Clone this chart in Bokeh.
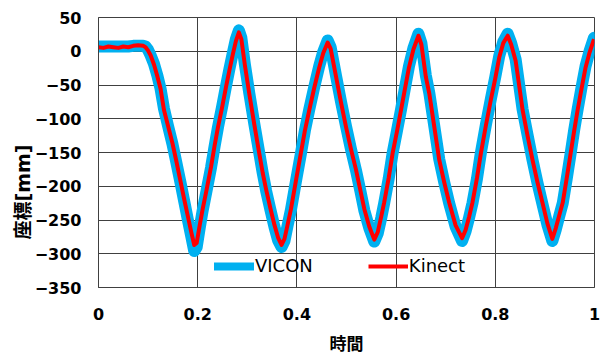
from bokeh.plotting import figure
from bokeh.models import (Range1d, FixedTicker, NumeralTickFormatter, Legend, LegendItem, Title)
from bokeh.embed import file_html
from bokeh.resources import INLINE

# ---- data ----
t = [0.000, 0.010, 0.020, 0.030, 0.040, 0.050, 0.060, 0.070, 0.080, 0.090, 0.095, 0.100, 0.105,
     0.112, 0.119, 0.125, 0.132, 0.140, 0.149, 0.157, 0.166, 0.173, 0.180, 0.187, 0.193, 0.198,
     0.204, 0.210, 0.218, 0.227, 0.234, 0.241, 0.249, 0.257, 0.264, 0.271, 0.277, 0.283, 0.288,
     0.295, 0.304, 0.314, 0.324, 0.331, 0.338, 0.347, 0.355, 0.362, 0.369, 0.375, 0.381, 0.388,
     0.398, 0.408, 0.416, 0.425, 0.435, 0.445, 0.453, 0.462, 0.468, 0.479, 0.489, 0.499, 0.509,
     0.519, 0.528, 0.536, 0.546, 0.556, 0.563, 0.570, 0.576, 0.585, 0.593, 0.602, 0.610, 0.618,
     0.626, 0.635, 0.645, 0.651, 0.660, 0.667, 0.677, 0.687, 0.697, 0.707, 0.720, 0.733, 0.740,
     0.747, 0.754, 0.763, 0.771, 0.781, 0.791, 0.800, 0.808, 0.816, 0.825, 0.832, 0.841, 0.848,
     0.855, 0.865, 0.875, 0.885, 0.895, 0.905, 0.915, 0.922, 0.929, 0.936, 0.944, 0.952, 0.959,
     0.966, 0.974, 0.982, 0.990, 0.999]

kinect = [6, 5, 7, 6, 5, 7, 6, 8, 9, 8, 6, 1, -6,
          -20, -38, -55, -87, -110, -136, -163, -195, -220, -244, -268, -287, -284,
          -258, -234, -205, -171, -140, -112, -84, -53, -28, -4, 15, 28, 18,
          -20, -63, -108, -151, -180, -205, -234, -258, -276, -287, -278, -258, -234,
          -192, -151, -118, -87, -54, -24, -3, 13, 4, -38, -76, -112, -145,
          -175, -206, -234, -260, -279, -268, -245, -224, -188, -151, -118, -87, -55,
          -24, 3, 23, 10, -38, -63, -112, -161, -194, -224, -258, -277, -265,
          -246, -224, -188, -151, -110, -72, -40, -9, 12, 23, 10, -14, -50,
          -87, -125, -161, -194, -224, -255, -278, -262, -243, -224, -188, -151, -118,
          -87, -55, -24, -2, 18]

vicon = [7, 7, 7, 7, 7, 7, 7, 8, 8, 8, 7, 2, -6,
         -19, -37, -55, -85, -110, -137, -165, -197, -223, -249, -274, -296, -290,
         -262, -236, -206, -172, -141, -112, -83, -52, -26, -2, 18, 31, 20,
         -19, -62, -107, -150, -180, -207, -236, -261, -280, -290, -281, -259, -235,
         -193, -152, -118, -86, -53, -22, -1, 16, 6, -37, -75, -111, -145,
         -176, -207, -236, -262, -282, -270, -247, -225, -189, -151, -117, -86, -54,
         -22, 5, 26, 12, -36, -62, -111, -160, -194, -225, -260, -281, -267,
         -247, -225, -189, -150, -109, -71, -38, -7, 14, 26, 12, -12, -49,
         -86, -124, -161, -195, -226, -257, -281, -264, -244, -225, -189, -151, -117,
         -86, -53, -22, 0, 20]

x_ticks = [0, 0.2, 0.4, 0.6, 0.8, 1.0]
y_ticks = [-350, -300, -250, -200, -150, -100, -50, 0, 50]
series_names = ["VICON", "Kinect"]
x_title = "時間"
y_title = "座標[mm]"

BLUE = "#00B0F0"
RED = "#FF0000"
GRID = "#404040"
FONT = "DejaVu Sans, Noto Sans CJK JP"

p = figure(width=602, height=356, output_backend="svg", toolbar_location=None,
           x_range=Range1d(0, 1), y_range=Range1d(-350, 50),
           min_border_left=98, min_border_right=8, min_border_top=17, min_border_bottom=69)
p.background_fill_color = "white"
p.border_fill_color = "white"
p.outline_line_color = GRID
p.outline_line_width = 1

# axes
for ax in (p.xaxis[0], p.yaxis[0]):
    ax.major_tick_out = 0
    ax.major_tick_in = 0
    ax.minor_tick_out = 0
    ax.minor_tick_in = 0
    ax.axis_line_color = GRID
    ax.major_label_text_font = FONT
    ax.major_label_text_font_style = "bold"
    ax.major_label_text_font_size = "16px"
    ax.major_label_text_color = "black"

p.xaxis.ticker = FixedTicker(ticks=x_ticks)
p.xaxis.formatter = NumeralTickFormatter(format="0.[0]")
p.xaxis.major_label_standoff = 20
p.xaxis.axis_label = x_title
p.xaxis.axis_label_text_font = FONT
p.xaxis.axis_label_text_font_style = "bold"
p.xaxis.axis_label_text_font_size = "17px"
p.xaxis.axis_label_text_color = "black"
p.xaxis.axis_label_standoff = 11

p.yaxis.ticker = FixedTicker(ticks=y_ticks)
p.yaxis.major_label_standoff = 17

p.xgrid.ticker = FixedTicker(ticks=x_ticks)
p.ygrid.ticker = FixedTicker(ticks=y_ticks)
for g in (p.xgrid[0], p.ygrid[0]):
    g.grid_line_color = GRID
    g.grid_line_width = 1
    g.grid_line_alpha = 1

# series
rv = p.line(t, vicon, line_color=BLUE, line_width=12, line_join="round", line_cap="round")
# narrower copy underneath (hidden by the wide line) used for the legend swatch
lv = p.line(t, vicon, line_color=BLUE, line_width=8, line_join="round", line_cap="round")
lv.level = "underlay"
rk = p.line(t, kinect, line_color=RED, line_width=4, line_join="round", line_cap="butt")

legend = Legend(items=[LegendItem(label=series_names[0], renderers=[lv]),
                       LegendItem(label=series_names[1], renderers=[rk])],
                orientation="horizontal", location=(116, 11),
                background_fill_alpha=0, border_line_alpha=0,
                label_text_font=FONT, label_text_font_size="18px", label_text_color="black",
                glyph_width=40, label_standoff=1, spacing=55, padding=0, margin=0)
p.add_layout(legend)

# y-axis title
p.add_layout(Title(text=y_title, align="left", vertical_align="top", offset=48, standoff=-8,
                   text_font=FONT, text_font_style="bold", text_font_size="19px",
                   text_color="black"), "left")

open("out.html", "w").write(file_html(p, INLINE))
